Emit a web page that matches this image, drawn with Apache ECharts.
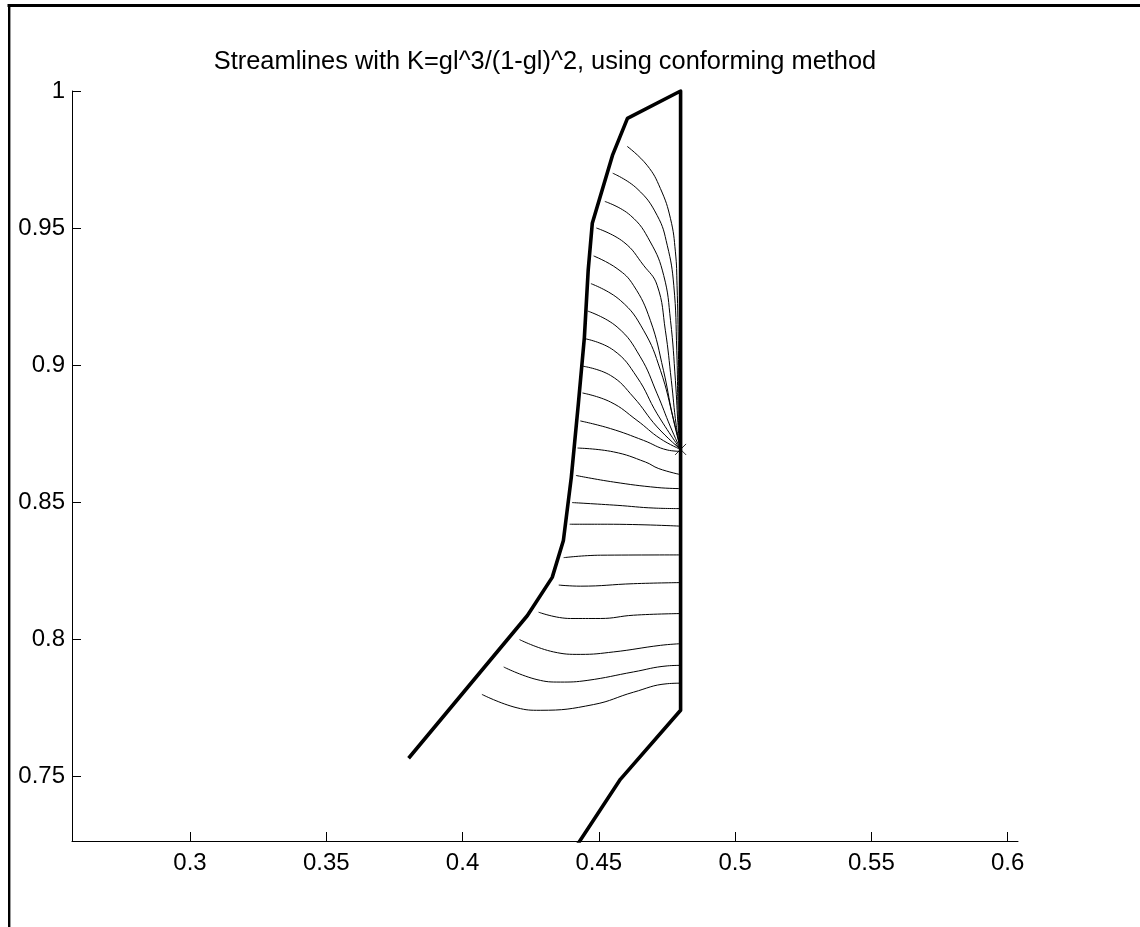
<!DOCTYPE html>
<html><head><meta charset="utf-8">
<script src="https://cdn.jsdelivr.net/npm/echarts@6/dist/echarts.min.js"></script>
<style>html,body{margin:0;padding:0;background:#fff}#c{width:1140px;height:927px}</style>
</head><body><div id="c"></div>
<script>
const chartTitle = 'Streamlines with K=gl^3/(1-gl)^2, using conforming method';
const xTicks = [0.3, 0.35, 0.4, 0.45, 0.5, 0.55, 0.6];
const yTicks = [0.75, 0.8, 0.85, 0.9, 0.95, 1];
const xRange = [0.2567, 0.6038];
const yRange = [0.7263, 1.0];

// domain boundary (thick polyline)
const boundary = [
  [0.3802, 0.7565], [0.4238, 0.8086], [0.4329, 0.8225], [0.4370, 0.8360],
  [0.4399, 0.8590], [0.4425, 0.8860], [0.4447, 0.9101], [0.4461, 0.9346],
  [0.4476, 0.9517], [0.4550, 0.9765], [0.4605, 0.9900], [0.48, 1.0],
  [0.48, 0.7740], [0.4579, 0.7488], [0.4415, 0.7240]
];

// point where the upper streamlines converge
const stagnationPoint = [0.48, 0.8692];

// streamlines
const streamlines = [
  [[0.4604,0.9798],[0.4677,0.9729],[0.4726,0.9644],[0.4763,0.9534],[0.4781,0.9413],[0.4787,0.9291],[0.4792,0.9054],[0.4794,0.8835],[0.48,0.8692]],
  [[0.4551,0.9700],[0.4640,0.9644],[0.4714,0.9546],[0.4751,0.9437],[0.4775,0.9291],[0.4786,0.9054],[0.4792,0.8798],[0.48,0.8692]],
  [[0.4522,0.9597],[0.4616,0.9546],[0.4689,0.9449],[0.4738,0.9327],[0.4763,0.9163],[0.4781,0.8944],[0.4792,0.8762],[0.48,0.8692]],
  [[0.4491,0.9500],[0.4591,0.9449],[0.4664,0.9364],[0.4714,0.9291],[0.4744,0.9127],[0.4766,0.8944],[0.4784,0.8780],[0.48,0.8692]],
  [[0.4481,0.9398],[0.4567,0.9352],[0.4627,0.9291],[0.4689,0.9163],[0.4737,0.8981],[0.4770,0.8817],[0.48,0.8692]],
  [[0.4471,0.9297],[0.4579,0.9236],[0.4664,0.9127],[0.4726,0.8981],[0.4775,0.8798],[0.48,0.8692]],
  [[0.4459,0.9197],[0.4567,0.9139],[0.4652,0.9030],[0.4714,0.8895],[0.4763,0.8774],[0.48,0.8692]],
  [[0.4450,0.9096],[0.4554,0.9054],[0.4640,0.8956],[0.4714,0.8822],[0.48,0.8692]],
  [[0.4440,0.8996],[0.4543,0.8962],[0.4627,0.8883],[0.4714,0.8774],[0.48,0.8692]],
  [[0.4440,0.8898],[0.4543,0.8865],[0.4640,0.8798],[0.4726,0.8731],[0.48,0.8692]],
  [[0.4432,0.8796],[0.4543,0.8768],[0.4664,0.8725],[0.4751,0.8690],[0.48,0.8685]],
  [[0.4422,0.8697],[0.4554,0.8683],[0.4671,0.8646],[0.4720,0.8622],[0.48,0.8600]],
  [[0.4416,0.8597],[0.4554,0.8573],[0.4714,0.8553],[0.48,0.8549]],
  [[0.4402,0.8498],[0.4567,0.8488],[0.4702,0.8478],[0.48,0.8476]],
  [[0.4393,0.8419],[0.4531,0.8419],[0.48,0.8412]],
  [[0.4371,0.8297],[0.4506,0.8306],[0.48,0.8307]],
  [[0.4353,0.8197],[0.4432,0.8193],[0.4627,0.8202],[0.48,0.8206]],
  [[0.4279,0.8098],[0.4396,0.8075],[0.4506,0.8075],[0.4627,0.8087],[0.48,0.8093]],
  [[0.4209,0.7998],[0.4334,0.7953],[0.4432,0.7944],[0.4554,0.7953],[0.4726,0.7977],[0.48,0.7983]],
  [[0.4151,0.7898],[0.4273,0.7852],[0.4359,0.7843],[0.4457,0.7849],[0.4627,0.7880],[0.4751,0.7902],[0.48,0.7904]],
  [[0.4071,0.7798],[0.4200,0.7749],[0.4285,0.7740],[0.4481,0.7761],[0.4627,0.7806],[0.4751,0.7837],[0.48,0.7839]]
];

const FONT = '"Liberation Sans", Arial, Helvetica, sans-serif';
const chart = echarts.init(document.getElementById('c'), null, {renderer: 'canvas'});

const series = [];
streamlines.forEach(function (pts) {
  series.push({
    type: 'line', data: pts, symbol: 'none', smooth: 0.45, clip: true,
    lineStyle: {color: '#000', width: 1}, silent: true, z: 2
  });
});
series.push({
  type: 'line', data: boundary, symbol: 'none', clip: true,
  lineStyle: {color: '#000', width: 3.6, join: 'round'}, silent: true, z: 3
});
series.push({
  type: 'scatter', data: [stagnationPoint], symbol: 'path://M0,0L10,10M10,0L0,10',
  symbolSize: 11, itemStyle: {color: 'none', borderColor: '#000', borderWidth: 1}, z: 4
});

chart.setOption({
  animation: false,
  backgroundColor: '#fff',
  grid: {left: 72, right: 122, top: 91, bottom: 86, containLabel: false},
  xAxis: {
    type: 'value', min: xRange[0], max: xRange[1],
    axisLine: {show: true, onZero: false, lineStyle: {color: '#000', width: 1}},
    axisTick: {show: true, inside: true, length: 9, customValues: xTicks, lineStyle: {color: '#000'}},
    axisLabel: {customValues: xTicks, color: '#000', fontSize: 24, fontFamily: FONT, margin: 10},
    splitLine: {show: false}
  },
  yAxis: {
    type: 'value', min: yRange[0], max: yRange[1],
    axisLine: {show: true, onZero: false, lineStyle: {color: '#000', width: 1}},
    axisTick: {show: true, inside: true, length: 9, customValues: yTicks, lineStyle: {color: '#000'}},
    axisLabel: {customValues: yTicks, color: '#000', fontSize: 24, fontFamily: FONT, margin: 7},
    splitLine: {show: false}
  },
  graphic: [
    {type: 'text', x: 545, y: 62, style: {text: chartTitle, fill: '#000', font: '25.4px ' + FONT, textAlign: 'center', textVerticalAlign: 'middle'}},
    {type: 'line', shape: {x1: 7.5, y1: 5.5, x2: 1140, y2: 5.5}, style: {stroke: '#000', lineWidth: 3}},
    {type: 'line', shape: {x1: 9.2, y1: 4, x2: 9.2, y2: 927}, style: {stroke: '#000', lineWidth: 2.4}}
  ],
  series: series
});
</script>
</body></html>
